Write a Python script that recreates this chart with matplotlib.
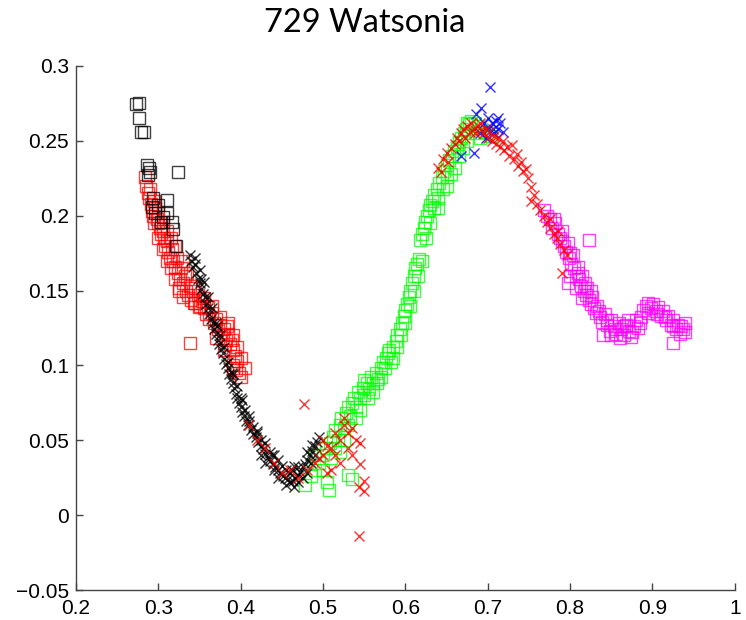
import matplotlib
matplotlib.use("Agg")
import matplotlib.pyplot as plt
from matplotlib.ticker import FuncFormatter

# Black squares (first observations)
blk_sq_x = [0.273, 0.277, 0.276, 0.279, 0.282, 0.286, 0.288, 0.290, 0.287, 0.3235,
            0.311, 0.294, 0.292, 0.296, 0.303, 0.310, 0.316, 0.318, 0.321, 0.299, 0.306]
blk_sq_y = [0.2745, 0.275, 0.265, 0.256, 0.256, 0.234, 0.232, 0.229, 0.227, 0.229,
            0.2105, 0.212, 0.206, 0.202, 0.196, 0.202, 0.196, 0.191, 0.180, 0.207, 0.199]

# Red squares
red_sq_x = [0.284, 0.285, 0.287, 0.289, 0.291, 0.292, 0.294, 0.296, 0.298, 0.300,
            0.302, 0.303, 0.305, 0.307, 0.308, 0.310, 0.312, 0.314, 0.316, 0.318,
            0.320, 0.322, 0.324, 0.326, 0.328, 0.330, 0.332, 0.334, 0.336, 0.338,
            0.340, 0.342, 0.345, 0.348, 0.350, 0.353, 0.355, 0.358, 0.360, 0.362,
            0.365, 0.368, 0.370, 0.372, 0.375, 0.378, 0.380, 0.382, 0.385, 0.387,
            0.389, 0.391, 0.393, 0.391, 0.394, 0.396, 0.398, 0.400, 0.338, 0.325,
            0.343, 0.349, 0.383, 0.391,
            0.290, 0.295, 0.300, 0.305, 0.295, 0.300, 0.305, 0.310, 0.315, 0.320,
            0.325, 0.330, 0.310, 0.315, 0.320, 0.330, 0.335, 0.345, 0.355, 0.365,
            0.375, 0.385, 0.390, 0.395, 0.400, 0.405, 0.380, 0.370]
red_sq_y = [0.226, 0.220, 0.215, 0.212, 0.208, 0.203, 0.200, 0.205, 0.198, 0.195,
            0.192, 0.188, 0.190, 0.185, 0.180, 0.183, 0.176, 0.172, 0.178, 0.170,
            0.166, 0.172, 0.162, 0.158, 0.165, 0.155, 0.160, 0.150, 0.147, 0.153,
            0.144, 0.150, 0.142, 0.147, 0.140, 0.143, 0.138, 0.134, 0.139, 0.131,
            0.135, 0.128, 0.131, 0.124, 0.127, 0.120, 0.124, 0.117, 0.121, 0.114,
            0.117, 0.110, 0.106, 0.100, 0.097, 0.103, 0.095, 0.092, 0.115, 0.152,
            0.142, 0.139, 0.126, 0.098,
            0.218, 0.210, 0.202, 0.196, 0.195, 0.185, 0.178, 0.170, 0.165, 0.158,
            0.150, 0.146, 0.190, 0.185, 0.180, 0.170, 0.162, 0.152, 0.145, 0.140,
            0.132, 0.128, 0.120, 0.112, 0.105, 0.098, 0.110, 0.118]

# Black crosses (descent and trough)
blk_x_x = [0.338, 0.340, 0.342, 0.344, 0.346, 0.348, 0.350, 0.352, 0.354, 0.356,
           0.358, 0.360, 0.362, 0.364, 0.366, 0.368, 0.370, 0.372, 0.374, 0.376,
           0.378, 0.380, 0.382, 0.384, 0.386, 0.388, 0.390, 0.392, 0.394, 0.396,
           0.398, 0.400, 0.402, 0.404, 0.406, 0.409, 0.412, 0.415, 0.418, 0.421,
           0.424, 0.427, 0.430, 0.433, 0.436, 0.439, 0.442, 0.445, 0.448, 0.451,
           0.454, 0.457, 0.460, 0.463, 0.466, 0.469, 0.472, 0.475, 0.478, 0.481,
           0.484, 0.487, 0.490, 0.492, 0.455, 0.445, 0.470, 0.462, 0.430, 0.410,
           0.352, 0.371, 0.389, 0.401, 0.420, 0.438, 0.480, 0.486,
           0.345, 0.350, 0.355, 0.360, 0.365, 0.370, 0.375, 0.380, 0.385, 0.390,
           0.395, 0.400, 0.405, 0.410, 0.415, 0.420, 0.425, 0.430, 0.435, 0.440,
           0.445, 0.450, 0.455, 0.460, 0.465, 0.470, 0.475, 0.480, 0.485, 0.490,
           0.495, 0.440, 0.425, 0.465]
blk_x_y = [0.174, 0.170, 0.166, 0.168, 0.162, 0.158, 0.155, 0.151, 0.148, 0.146,
           0.141, 0.138, 0.134, 0.131, 0.128, 0.124, 0.121, 0.117, 0.114, 0.111,
           0.108, 0.104, 0.101, 0.098, 0.094, 0.091, 0.088, 0.085, 0.081, 0.078,
           0.075, 0.072, 0.069, 0.066, 0.063, 0.060, 0.057, 0.054, 0.052, 0.049,
           0.046, 0.044, 0.041, 0.039, 0.036, 0.034, 0.032, 0.030, 0.028, 0.026,
           0.025, 0.024, 0.022, 0.023, 0.025, 0.027, 0.029, 0.032, 0.034, 0.037,
           0.040, 0.043, 0.046, 0.049, 0.030, 0.037, 0.022, 0.030, 0.048, 0.063,
           0.158, 0.126, 0.095, 0.077, 0.055, 0.040, 0.042, 0.047,
           0.172, 0.164, 0.156, 0.146, 0.138, 0.128, 0.120, 0.112, 0.102, 0.094,
           0.086, 0.078, 0.070, 0.066, 0.059, 0.056, 0.050, 0.035, 0.042, 0.030,
           0.025, 0.033, 0.020, 0.028, 0.019, 0.032, 0.025, 0.028, 0.035, 0.040,
           0.052, 0.040, 0.040, 0.033]

# Red crosses (trough group and peak group)
red_x_x = [0.500, 0.510, 0.520, 0.525, 0.530, 0.535, 0.540, 0.545, 0.535, 0.545,
           0.550, 0.550, 0.520, 0.510, 0.505, 0.530, 0.525, 0.515, 0.500, 0.490,
           0.480, 0.477, 0.543, 0.543, 0.430, 0.420, 0.440, 0.460, 0.410, 0.450,
           0.470, 0.495, 0.505, 0.515,
           0.640, 0.645, 0.650, 0.652, 0.655, 0.660, 0.662, 0.665, 0.668, 0.670,
           0.672, 0.675, 0.678, 0.680, 0.683, 0.685, 0.688, 0.690, 0.692, 0.695,
           0.698, 0.700, 0.702, 0.705, 0.708, 0.710, 0.712, 0.715, 0.718, 0.720,
           0.723, 0.726, 0.729, 0.732, 0.735, 0.737, 0.740, 0.743, 0.746, 0.749,
           0.752, 0.752, 0.756, 0.760, 0.764, 0.768, 0.772, 0.776, 0.780, 0.784,
           0.788, 0.792, 0.796, 0.790, 0.785, 0.775, 0.643]
red_x_y = [0.040, 0.045, 0.050, 0.060, 0.055, 0.058, 0.050, 0.048, 0.040, 0.034,
           0.023, 0.016, 0.035, 0.030, 0.028, 0.045, 0.065, 0.055, 0.050, 0.035,
           0.030, 0.074, 0.019, -0.0135, 0.045, 0.050, 0.035, 0.030, 0.060, 0.028,
           0.025, 0.038, 0.046, 0.040,
           0.232, 0.238, 0.242, 0.236, 0.245, 0.248, 0.252, 0.250, 0.255, 0.258,
           0.252, 0.260, 0.256, 0.262, 0.258, 0.255, 0.260, 0.262, 0.257, 0.255,
           0.258, 0.252, 0.256, 0.250, 0.253, 0.248, 0.252, 0.246, 0.250, 0.244,
           0.246, 0.240, 0.247, 0.238, 0.241, 0.233, 0.236, 0.230, 0.231, 0.225,
           0.219, 0.210, 0.214, 0.208, 0.204, 0.200, 0.196, 0.192, 0.188, 0.185,
           0.181, 0.177, 0.174, 0.162, 0.190, 0.198, 0.229]

# Green squares (rise)
grn_sq_x = [0.478, 0.485, 0.490, 0.495, 0.500, 0.505, 0.503, 0.508, 0.512, 0.515,
            0.518, 0.520, 0.522, 0.525, 0.528, 0.530, 0.530, 0.533, 0.535, 0.538,
            0.540, 0.542, 0.545, 0.548, 0.550, 0.553, 0.556, 0.558, 0.561, 0.564,
            0.567, 0.570, 0.573, 0.576, 0.579, 0.582, 0.585, 0.588, 0.590, 0.593,
            0.596, 0.598, 0.600, 0.602, 0.604, 0.606, 0.608, 0.610, 0.612, 0.614,
            0.616, 0.618, 0.620, 0.622, 0.624, 0.626, 0.628, 0.630, 0.632, 0.635,
            0.638, 0.641, 0.644, 0.647, 0.650, 0.653, 0.656, 0.659, 0.662, 0.665,
            0.668, 0.671, 0.674, 0.677, 0.680, 0.684, 0.688, 0.692, 0.696, 0.700,
            0.704, 0.640, 0.655, 0.670, 0.650, 0.535, 0.507,
            0.490, 0.500, 0.510, 0.515, 0.520, 0.525, 0.530, 0.540, 0.545, 0.550,
            0.555, 0.560, 0.565, 0.570, 0.575, 0.580, 0.585, 0.590, 0.595, 0.600,
            0.605, 0.610, 0.615, 0.620, 0.625, 0.630, 0.635, 0.640, 0.645, 0.650,
            0.660, 0.665, 0.675, 0.685, 0.690, 0.675]
grn_sq_y = [0.020, 0.026, 0.030, 0.035, 0.040, 0.022, 0.045, 0.048, 0.052, 0.057,
            0.050, 0.060, 0.065, 0.058, 0.068, 0.027, 0.072, 0.066, 0.075, 0.078,
            0.072, 0.082, 0.078, 0.085, 0.080, 0.088, 0.084, 0.092, 0.088, 0.095,
            0.091, 0.098, 0.102, 0.105, 0.108, 0.102, 0.112, 0.116, 0.120, 0.124,
            0.128, 0.133, 0.137, 0.141, 0.146, 0.150, 0.155, 0.160, 0.165, 0.168,
            0.171, 0.184, 0.188, 0.192, 0.196, 0.200, 0.204, 0.207, 0.210, 0.214,
            0.218, 0.222, 0.226, 0.230, 0.234, 0.237, 0.240, 0.243, 0.246, 0.249,
            0.252, 0.255, 0.258, 0.261, 0.263, 0.262, 0.260, 0.258, 0.256, 0.255,
            0.253, 0.205, 0.228, 0.245, 0.220, 0.024, 0.017,
            0.040, 0.030, 0.038, 0.045, 0.042, 0.050, 0.060, 0.065, 0.070, 0.090,
            0.078, 0.082, 0.088, 0.092, 0.098, 0.110, 0.105, 0.112, 0.120, 0.128,
            0.140, 0.150, 0.160, 0.170, 0.185, 0.195, 0.205, 0.212, 0.218, 0.226,
            0.232, 0.240, 0.250, 0.255, 0.252, 0.262]

# Blue crosses (near the peak)
blu_x_x = [0.703, 0.692, 0.686, 0.695, 0.700, 0.705, 0.710, 0.712, 0.715, 0.718,
           0.708, 0.700, 0.698, 0.690, 0.683, 0.668, 0.713, 0.706]
blu_x_y = [0.286, 0.272, 0.268, 0.262, 0.265, 0.262, 0.263, 0.258, 0.262, 0.256,
           0.255, 0.258, 0.252, 0.255, 0.242, 0.240, 0.265, 0.258]

# Magenta squares (tail)
mag_sq_x = [0.768, 0.772, 0.776, 0.778, 0.782, 0.785, 0.788, 0.790, 0.792, 0.795,
            0.797, 0.799, 0.801, 0.803, 0.805, 0.807, 0.809, 0.811, 0.813, 0.815,
            0.817, 0.819, 0.821, 0.823, 0.825, 0.827, 0.829, 0.831, 0.833, 0.836,
            0.839, 0.842, 0.845, 0.848, 0.850, 0.853, 0.856, 0.859, 0.862, 0.865,
            0.868, 0.871, 0.874, 0.877, 0.880, 0.883, 0.886, 0.889, 0.892, 0.895,
            0.898, 0.901, 0.904, 0.907, 0.910, 0.913, 0.916, 0.919, 0.922, 0.925,
            0.925, 0.928, 0.931, 0.934, 0.937, 0.940, 0.823, 0.815, 0.800, 0.840,
            0.860, 0.797, 0.807,
            0.780, 0.790, 0.800, 0.810, 0.818, 0.825, 0.835, 0.845, 0.855, 0.865,
            0.875, 0.885, 0.895, 0.905, 0.915, 0.925, 0.935, 0.940, 0.870, 0.850]
mag_sq_y = [0.204, 0.200, 0.198, 0.192, 0.195, 0.188, 0.185, 0.190, 0.180, 0.176,
            0.182, 0.172, 0.168, 0.174, 0.165, 0.160, 0.166, 0.158, 0.153, 0.160,
            0.150, 0.147, 0.152, 0.144, 0.141, 0.146, 0.138, 0.135, 0.140, 0.132,
            0.129, 0.134, 0.127, 0.123, 0.130, 0.126, 0.121, 0.128, 0.124, 0.120,
            0.127, 0.123, 0.119, 0.126, 0.130, 0.125, 0.132, 0.137, 0.140, 0.135,
            0.138, 0.141, 0.136, 0.139, 0.133, 0.136, 0.130, 0.133, 0.127, 0.115,
            0.130, 0.124, 0.127, 0.121, 0.124, 0.122, 0.184, 0.145, 0.160, 0.120,
            0.118, 0.155, 0.152,
            0.198, 0.183, 0.175, 0.162, 0.155, 0.150, 0.136, 0.130, 0.124, 0.126,
            0.122, 0.128, 0.142, 0.134, 0.132, 0.126, 0.126, 0.128, 0.130, 0.120]

plt.rcParams["font.family"] = ["Liberation Sans", "DejaVu Sans"]

fig = plt.figure(figsize=(7.46, 6.2), dpi=100)
ax = fig.add_axes([0.102, 0.048, 0.883, 0.846])

sq = dict(marker="s", linestyle="none", markersize=8, markerfacecolor="none",
          markeredgewidth=1.0, alpha=0.75)
cr = dict(marker="x", linestyle="none", markersize=7, markeredgewidth=1.0, alpha=0.8)

ax.plot(red_sq_x, red_sq_y, color="red", **sq)
ax.plot(blk_sq_x, blk_sq_y, color="black", **sq)
ax.plot(grn_sq_x, grn_sq_y, color="lime", **sq)
ax.plot(mag_sq_x, mag_sq_y, color="magenta", **sq)
ax.plot(blu_x_x, blu_x_y, color="blue", **cr)
ax.plot(blk_x_x, blk_x_y, color="black", **cr)
ax.plot(red_x_x, red_x_y, color="red", **cr)

ax.set_xlim(0.2, 1.0)
ax.set_ylim(-0.05, 0.3)
ax.set_xticks([0.2, 0.3, 0.4, 0.5, 0.6, 0.7, 0.8, 0.9, 1.0])
ax.set_yticks([-0.05, 0, 0.05, 0.1, 0.15, 0.2, 0.25, 0.3])
fmt = FuncFormatter(lambda v, p: ("%g" % round(v, 3)).replace("-", "\u2212"))
ax.xaxis.set_major_formatter(fmt)
ax.yaxis.set_major_formatter(fmt)

for s in ["top", "right"]:
    ax.spines[s].set_visible(False)
for s in ["left", "bottom"]:
    ax.spines[s].set_color("#444444")
    ax.spines[s].set_linewidth(1.0)
ax.tick_params(direction="in", length=5, width=1, color="#444444",
               labelsize=15)
ax.tick_params(axis="x", pad=6)
ax.tick_params(axis="y", pad=5)

fig.text(0.489, 0.963, "729 Watsonia", ha="center", va="center",
         fontsize=23.5, family="Lato")

fig.savefig("out.png", dpi=100)
